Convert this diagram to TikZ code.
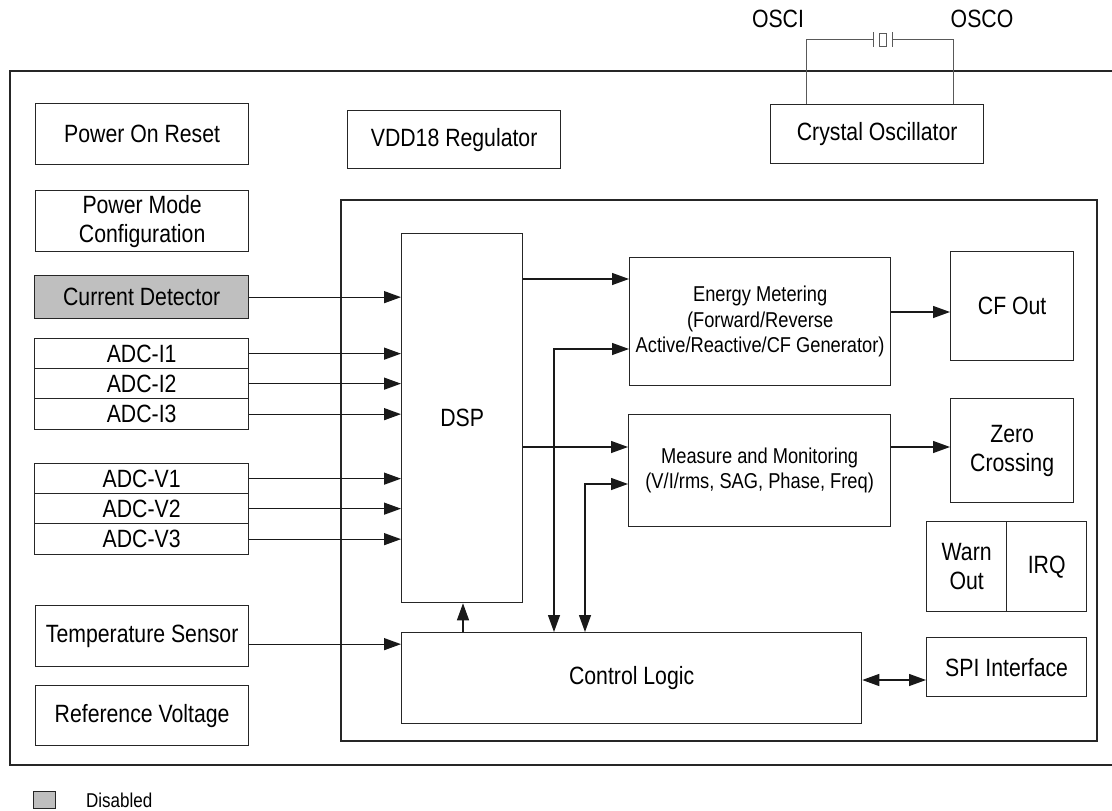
\documentclass[tikz,border=0pt]{standalone}
\usepackage{fontspec}
\setmainfont{Liberation Sans}[FakeStretch=0.85]
\usetikzlibrary{arrows.meta,calc}
\begin{document}
\begin{tikzpicture}[x=1pt,y=-1pt,
  box/.style={draw=black!85, line width=1.3pt, inner sep=0pt, align=center, anchor=north west, font=\fontsize{25}{29}\selectfont},
  wh/.style 2 args={minimum width=#1pt, minimum height=#2pt},
  small/.style={font=\fontsize{21.5}{25.5}\selectfont},
  arr/.style={-{Triangle[length=17pt,width=12pt]}, line width=1.3pt, draw=black!90},
  darr/.style={{Triangle[length=17pt,width=12pt]}-{Triangle[length=17pt,width=12pt]}, line width=1.3pt, draw=black!90},
  wire/.style={draw=black!65, line width=1pt},
  lbl/.style={font=\fontsize{25}{29}\selectfont, inner sep=0pt}]
\useasboundingbox (0,0) rectangle (1112,811);
% frames
\draw[line width=1.3pt, draw=black!85] (10,71) rectangle (1118,765);
\draw[line width=1.3pt, draw=black!85] (341,200) rectangle (1097,741);
% left column
\node[box, wh={213}{61}] (por) at (35,103) {Power On Reset};
\node[box, wh={213}{61}] (pmc) at (35,190) {Power Mode\\Configuration};
\node[box, wh={214}{43}, fill=black!25] (cur) at (34,275) {Current Detector};
\node[box, wh={214}{30}] (ai1) at (34,338) {ADC-I1};
\node[box, wh={214}{30}] (ai2) at (34,368) {ADC-I2};
\node[box, wh={214}{31}] (ai3) at (34,398) {ADC-I3};
\node[box, wh={214}{30}] (av1) at (34,463) {ADC-V1};
\node[box, wh={214}{30}] (av2) at (34,493) {ADC-V2};
\node[box, wh={214}{31}] (av3) at (34,523) {ADC-V3};
\node[box, wh={213}{61}] (tmp) at (35,605) {Temperature Sensor};
\node[box, wh={213}{60}] (ref) at (35,685) {Reference Voltage};
% top
\node[box, wh={213}{58}] (vdd) at (347,110) {VDD18 Regulator};
\node[box, wh={213}{59}] (osc) at (770,104) {Crystal Oscillator};
% inner
\node[box, wh={121}{369}] (dsp) at (401,233) {DSP};
\node[box, wh={460}{91}] (ctl) at (401,632) {Control Logic};
\node[box, wh={261}{128}, small] (energy) at (629,257) {Energy Metering\\(Forward/Reverse\\Active/Reactive/CF Generator)};
\node[box, wh={262}{112}, small] (measure) at (628,414) {Measure and Monitoring\\(V/I/rms, SAG, Phase, Freq)};
\node[box, wh={123}{109}] (cf) at (950,251) {CF Out};
\node[box, wh={123}{104}] (zero) at (950,398) {Zero\\Crossing};
\node[box, wh={80}{90}] (warn) at (926,521) {Warn\\Out};
\node[box, wh={80}{90}] (irq) at (1006,521) {IRQ};
\node[box, wh={160}{59}] (spi) at (926,637) {SPI Interface};
% crystal
\node[lbl] (osci) at (778,19) {OSCI};
\node[lbl] (osco) at (982,19) {OSCO};
\coordinate (w1) at ([xshift=36pt]osc.north west);
\coordinate (w2) at ([xshift=-31pt]osc.north east);
\coordinate (xa) at (873,39);
\coordinate (xb) at (892,39);
\draw[wire] (w1) |- (xa);
\draw[wire] (w2) |- (xb);
\draw[wire] ([yshift=7pt]xa) -- ([yshift=-8pt]xa);
\draw[wire] ([yshift=7pt]xb) -- ([yshift=-8pt]xb);
\draw[wire] (879,33) rectangle (886,46);
% inputs to DSP
\foreach \n in {cur,ai1,ai2,ai3,av1,av2,av3}{
  \draw[arr] (\n.east) -- (\n.east -| dsp.west);
}
\coordinate (t1) at ([yshift=-8pt]tmp.east);
\draw[arr] (t1) -- (t1 -| ctl.west);
% DSP outputs
\coordinate (e1) at ([yshift=-22pt]energy.north west);
\draw[arr] (e1 -| dsp.east) -- (e1);
\coordinate (m1) at ([yshift=-33pt]measure.north west);
\draw[arr] (m1 -| dsp.east) -- (m1);
\draw[arr] (m1 -| measure.east) -- (m1 -| zero.west);
\coordinate (e3) at ([yshift=-55pt]energy.north east);
\draw[arr] (e3) -- (e3 -| cf.west);
% control links
\coordinate (e2) at ([yshift=-92pt]energy.north west);
\coordinate (c1) at ([xshift=153pt]ctl.north west);
\draw[darr] (e2) -| (c1);
\coordinate (m2) at ([yshift=-70pt]measure.north west);
\coordinate (c2) at ([xshift=184pt]ctl.north west);
\draw[darr] (m2) -| (c2);
\coordinate (c3) at ([xshift=62pt]ctl.north west);
\draw[arr] (c3) -- (c3 |- dsp.south);
\coordinate (s1) at ([yshift=-48pt]ctl.north east);
\draw[darr] (s1) -- (s1 -| spi.west);
% legend
\node[draw=black!85, fill=black!25, line width=1.3pt, inner sep=0pt, minimum width=22pt, minimum height=17pt, anchor=north west] (leg) at (33,791) {};
\node[anchor=west, inner sep=0pt, font=\fontsize{20}{23}\selectfont] (legt) at (86,800) {Disabled};
\end{tikzpicture}
\end{document}
